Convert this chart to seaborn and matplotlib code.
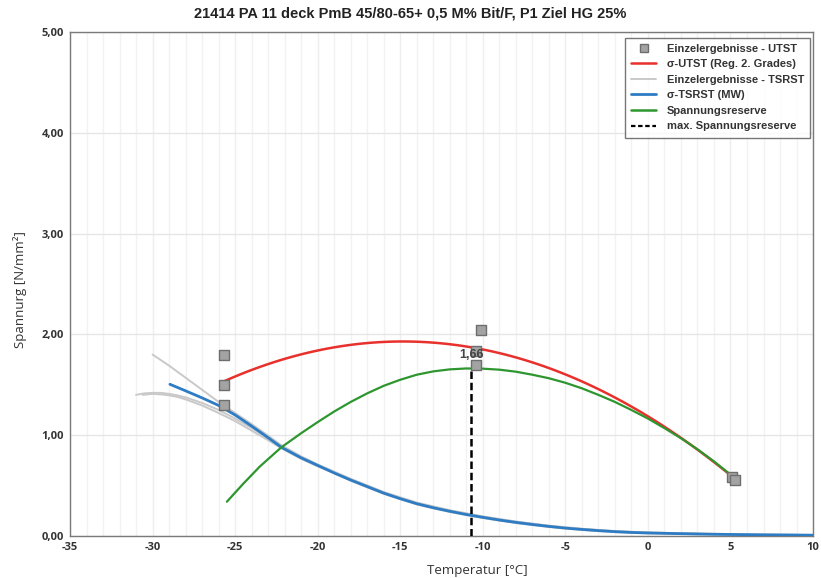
"""Spannungsreserve chart: UTST vs TSRST."""
import matplotlib
matplotlib.use("Agg")
import matplotlib.pyplot as plt
from matplotlib.lines import Line2D
from matplotlib.ticker import MultipleLocator, FuncFormatter
import seaborn as sns
import pandas as pd

TITLE = "21414 PA 11 deck PmB 45/80-65+ 0,5 M% Bit/F, P1 Ziel HG 25%"

# Einzelergebnisse UTST (points)
utst_x = [-25.7, -25.7, -25.7, -10.1, -10.4, -10.4, 5.1, 5.3]
utst_y = [1.80, 1.50, 1.30, 2.04, 1.84, 1.70, 0.59, 0.56]

# sigma-TSRST (MW)
tsrst_x = [-28.95, -28, -27, -26, -25, -24, -23, -22.2, -21, -20, -19, -18, -17, -16,
           -15, -14, -13, -12, -11, -10, -9, -8, -7, -6, -5, -4, -3, -2, -1, 0,
           2, 4, 7, 10]
tsrst_y = [1.505, 1.44, 1.37, 1.295, 1.20, 1.09, 0.975, 0.88, 0.775, 0.70, 0.625, 0.555,
           0.49, 0.425, 0.37, 0.32, 0.28, 0.245, 0.213, 0.185, 0.158, 0.135, 0.114,
           0.095, 0.078, 0.065, 0.053, 0.043, 0.035, 0.030, 0.023, 0.017, 0.011, 0.008]

# Einzelergebnisse TSRST (three single curves)
tail_x = [-18, -16, -14, -12, -10, -8, -6, -4, -2, 0, 3, 6, 10]
single_x = [
    [-30.0, -29, -28, -27, -26, -25, -24, -23, -22.2, -21, -20] + tail_x,
    [-31.0, -30.5, -30, -29.5, -29, -28.5, -28, -27, -26, -25, -24, -23, -22.2, -21, -20] + tail_x,
    [-30.6, -30, -29.5, -29, -28.5, -28, -27, -26, -25, -24, -23, -22.2, -21, -20] + tail_x,
]
single_y = [
    [1.80, 1.69, 1.57, 1.45, 1.33, 1.22, 1.11, 0.995, 0.90, 0.79, 0.71,
     0.567, 0.437, 0.332, 0.256, 0.195, 0.144, 0.103, 0.072, 0.049, 0.035, 0.024, 0.017, 0.010],
    [1.40, 1.415, 1.42, 1.42, 1.41, 1.395, 1.375, 1.32, 1.25, 1.165, 1.07, 0.97, 0.89, 0.78, 0.70,
     0.548, 0.418, 0.313, 0.238, 0.178, 0.128, 0.089, 0.060, 0.038, 0.026, 0.017, 0.011, 0.006],
    [1.40, 1.41, 1.405, 1.395, 1.38, 1.355, 1.295, 1.22, 1.14, 1.045, 0.95, 0.87, 0.765, 0.69,
     0.560, 0.431, 0.326, 0.250, 0.190, 0.140, 0.099, 0.069, 0.047, 0.033, 0.022, 0.015, 0.009],
]

# Spannungsreserve
reserve_x = [-25.5, -24.5, -23.5, -22.2, -21, -20, -19, -18, -17, -16, -15, -14, -13, -12,
             -11, -10, -9, -8, -7, -6, -5, -4, -3, -2, -1, 0, 1, 2, 3, 4, 5.3]
reserve_y = [0.34, 0.52, 0.69, 0.88, 1.02, 1.13, 1.235, 1.33, 1.415, 1.49, 1.55, 1.60, 1.633,
             1.653, 1.662, 1.66, 1.65, 1.63, 1.60, 1.565, 1.52, 1.465, 1.40, 1.33, 1.25,
             1.165, 1.07, 0.97, 0.86, 0.74, 0.57]

max_reserve_x = -10.7
max_reserve_y = 1.66

RED = "#e8302c"
BLUE = "#2e7cc4"
GREEN = "#2e962e"
GRAY_LINE = "#c9c9c9"
TXT = "#333333"

sns.set_style("white")
plt.rcParams["font.family"] = ["Liberation Sans", "DejaVu Sans"]

fig = plt.figure(figsize=(8.21, 5.78), dpi=100)
ax = fig.add_axes([0.0853, 0.0727, 0.905, 0.8719])

for gx, gy in zip(single_x, single_y):
    sns.lineplot(x=gx, y=gy, ax=ax, color=GRAY_LINE, lw=1.4, sort=False, zorder=2)

sns.lineplot(x=tsrst_x, y=tsrst_y, ax=ax, color=BLUE, lw=2.0, sort=False, zorder=3)

df = pd.DataFrame({"x": utst_x, "y": utst_y})
sns.regplot(data=df, x="x", y="y", order=2, ci=None, scatter=False, ax=ax,
            line_kws={"color": RED, "lw": 1.8, "zorder": 4}, truncate=True)

sns.lineplot(x=reserve_x, y=reserve_y, ax=ax, color=GREEN, lw=1.6, sort=False, zorder=4)

ax.plot([max_reserve_x, max_reserve_x], [0, max_reserve_y], color="black",
        lw=1.8, ls=(0, (3, 1.5)), zorder=5)

sns.scatterplot(x=utst_x, y=utst_y, ax=ax, marker="s", s=60, color="#a3a3a3",
                edgecolor="#6e6e6e", linewidth=1.0, zorder=6)

ax.text(max_reserve_x, max_reserve_y + 0.14, f"{max_reserve_y:.2f}".replace(".", ","),
        ha="center", va="center", fontsize=9, fontweight="bold", color="#444444", zorder=7)

ax.set_xlim(-35, 10)
ax.set_ylim(0, 5)
ax.xaxis.set_major_locator(MultipleLocator(5))
ax.xaxis.set_minor_locator(MultipleLocator(1))
ax.yaxis.set_major_locator(MultipleLocator(1))
ax.yaxis.set_minor_locator(MultipleLocator(0.2))
ax.xaxis.set_major_formatter(FuncFormatter(lambda v, p: f"{v:.0f}"))
ax.yaxis.set_major_formatter(FuncFormatter(lambda v, p: f"{v:.2f}".replace(".", ",")))

ax.grid(which="minor", axis="x", color="#f2f2f2", lw=1.0)
ax.grid(which="major", axis="x", color="#eeeeee", lw=1.0)
ax.grid(which="major", axis="y", color="#e6e6e6", lw=1.0)
ax.set_axisbelow(True)

for s in ax.spines.values():
    s.set_color("#7a7a7a")
    s.set_linewidth(1.0)
ax.tick_params(which="major", direction="inout", length=5, color="#7a7a7a",
               labelsize=8, labelcolor=TXT, pad=2)
ax.tick_params(which="minor", direction="inout", length=3, color="#9a9a9a")
for lab in ax.get_xticklabels() + ax.get_yticklabels():
    lab.set_fontweight("bold")
    lab.set_family(["Open Sans", "DejaVu Sans"])

ax.set_xlabel("Temperatur [°C]", fontsize=9.5, color=TXT,
              family=["Open Sans", "DejaVu Sans"])
ax.set_ylabel("Spannurg [N/mm²]", fontsize=9.5, color=TXT,
              family=["Open Sans", "DejaVu Sans"])
ax.xaxis.set_label_coords(0.548, -0.055)
ax.yaxis.set_label_coords(-0.058, 0.488)

fig.text(0.5, 0.977, TITLE, ha="center", va="center", fontsize=10.5,
         fontweight="bold", color="#222222")

handles = [
    Line2D([], [], ls="none", marker="s", ms=6, mfc="#a3a3a3", mec="#6e6e6e"),
    Line2D([], [], color=RED, lw=1.8),
    Line2D([], [], color=GRAY_LINE, lw=1.4),
    Line2D([], [], color=BLUE, lw=2.0),
    Line2D([], [], color=GREEN, lw=1.8),
    Line2D([], [], color="black", lw=1.6, ls=(0, (2, 1.2))),
]
labels = ["Einzelergebnisse - UTST", "σ-UTST (Reg. 2. Grades)",
          "Einzelergebnisse - TSRST", "σ-TSRST (MW)", "Spannungsreserve",
          "max. Spannungsreserve"]
leg = ax.legend(handles, labels, loc="upper right", bbox_to_anchor=(1.004, 1.0),
                frameon=True, fancybox=False, fontsize=8, handlelength=2.2,
                labelspacing=0.5, borderpad=0.55, handletextpad=1.0)
leg.get_frame().set_edgecolor("#555555")
leg.get_frame().set_linewidth(1.0)
for t in leg.get_texts():
    t.set_fontweight("bold")
    t.set_color(TXT)

fig.savefig("out.png", dpi=100)
